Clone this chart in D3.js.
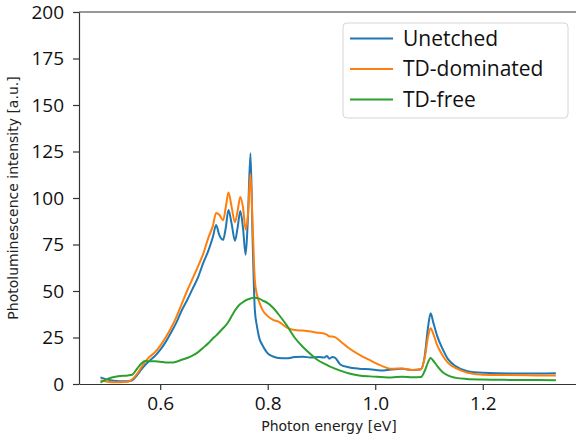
<!DOCTYPE html>
<html>
<head>
<meta charset="utf-8">
<script src="https://cdn.jsdelivr.net/npm/d3@7"></script>
<style>
    body { margin: 0; background: #fff; }
    #pl-chart { width: 576px; height: 442px; overflow: hidden; }
    .axis text { font-family: "Open Sans", sans-serif; font-size: 19px; fill: #111; }
    .axis path, .axis line { stroke: #333; stroke-width: 1.2; }
    .axis-label { font-family: "DejaVu Sans", sans-serif; font-size: 14px; fill: #222; text-anchor: middle; }
    .legend-text { font-family: "Open Sans", sans-serif; font-size: 21px; fill: #111; }
</style>
</head>
<body>
<div id="pl-chart"></div>
<script>
// --- Data ---
const energy = [0.489, 0.50, 0.51, 0.525, 0.54, 0.548, 0.557, 0.565, 0.572, 0.58, 0.59, 0.60, 0.61, 0.62, 0.63, 0.64, 0.65, 0.66, 0.67, 0.68, 0.69, 0.698, 0.704, 0.71, 0.717, 0.722, 0.727, 0.733, 0.739, 0.744, 0.749, 0.754, 0.759, 0.763, 0.768, 0.772, 0.776, 0.78, 0.785, 0.79, 0.80, 0.81, 0.82, 0.835, 0.85, 0.865, 0.88, 0.895, 0.905, 0.91, 0.915, 0.92, 0.925, 0.935, 0.95, 0.97, 0.99, 1.01, 1.03, 1.05, 1.07, 1.085, 1.092, 1.098, 1.103, 1.108, 1.115, 1.125, 1.135, 1.15, 1.17, 1.2, 1.25, 1.3, 1.336];

const unetched = [3.6, 2.5, 1.9, 1.5, 1.5, 2.0, 4.8, 7.8, 10.2, 12.5, 15, 18.3, 22.5, 27.5, 33, 39.5, 45, 51, 57, 65, 72, 79, 85.5, 80, 77.5, 84, 93.5, 86, 77, 84, 93, 84, 69.5, 88, 124, 77, 40, 31, 24, 21, 16.5, 14.8, 14, 13.8, 14.5, 14.7, 14.2, 14.5, 14.2, 15, 13.6, 14.5, 14.2, 10.5, 9, 8.2, 7.9, 7.3, 7.8, 8.2, 7.5, 7.9, 15, 30, 38, 33, 26, 19, 13.5, 9.5, 7, 6, 5.7, 5.7, 5.8];

const tdDominated = [2.1, 1.3, 1.0, 1.0, 1.2, 2.5, 5.5, 9, 12, 14.5, 17, 20.5, 25, 30, 36, 43, 50, 56.5, 63, 70, 79, 85, 92, 91, 88, 95, 103, 95, 87, 93, 100.5, 95, 83, 90, 113, 85, 56, 48, 43.5, 40, 36.5, 34.5, 33.5, 30.5, 29, 28.7, 28.2, 27.5, 27.2, 26.5, 25.5, 25.6, 25.2, 23, 19.5, 15.8, 12.8, 10, 8.2, 8.4, 7.5, 7.9, 14, 25, 30, 27, 21, 15.5, 11.5, 8.5, 6.2, 5, 4.8, 4.6, 4.5];

const tdFree = [0.8, 2.5, 3.5, 4.3, 4.6, 5, 8.2, 11, 12.4, 12.2, 12.2, 12, 11.6, 11.5, 12, 13, 14, 15.3, 17, 19.5, 22, 24.5, 26, 27.8, 30, 31.5, 33.5, 36.5, 39.5, 41.5, 43, 44, 45, 45.5, 46, 46.3, 46.4, 46.2, 45.8, 45, 43.5, 41, 37.5, 31.7, 25, 20, 16, 12.5, 11, 10.3, 9.5, 8.9, 8.3, 7.2, 5.8, 4.6, 4.1, 3.8, 3.5, 3.9, 3.6, 3.7, 7, 11.5, 14, 12.5, 9.8, 6.5, 4.6, 3.3, 2.7, 2.4, 2.2, 2.1, 2.0];

const seriesNames = ['Unetched', 'TD-dominated', 'TD-free'];
const seriesColors = ['#1f77b4', '#ff7f0e', '#2ca02c'];
const xTicks = [0.6, 0.8, 1.0, 1.2];
const yTicks = [0, 25, 50, 75, 100, 125, 150, 175, 200];

function renderSpectrum() {
    const W = 576, H = 442;
    // axes run a little past the right edge of the picture
    const margin = { top: 12, left: 79 };
    const width = 500;
    const height = 372;

    const svg = d3.select('#pl-chart').append('svg')
        .attr('width', W)
        .attr('height', H);

    const g = svg.append('g')
        .attr('transform', `translate(${margin.left},${margin.top})`);

    // --- Scales ---
    const x = d3.scaleLinear().domain([0.449, 1.379]).range([0, width]);
    const y = d3.scaleLinear().domain([0, 200]).range([height, 0]);

    // --- Lines ---
    const line = d3.line()
        .curve(d3.curveMonotoneX)
        .x(d => x(d[0]))
        .y(d => y(d[1]));

    [unetched, tdDominated, tdFree].forEach((vals, i) => {
        g.append('path')
            .datum(energy.map((e, k) => [e, vals[k]]))
            .attr('fill', 'none')
            .attr('stroke', seriesColors[i])
            .attr('stroke-width', 2)
            .attr('stroke-linejoin', 'round')
            .attr('d', line);
    });

    // --- Axes ---
    g.append('g')
        .attr('class', 'axis')
        .attr('transform', `translate(0,${height})`)
        .call(d3.axisBottom(x).tickValues(xTicks).tickSize(6).tickSizeOuter(0).tickPadding(7)
            .tickFormat(d3.format('.1f')));

    g.append('g')
        .attr('class', 'axis')
        .call(d3.axisLeft(y).tickValues(yTicks).tickSize(6).tickSizeOuter(0).tickPadding(9));

    // top spine
    g.append('line')
        .attr('x1', 0).attr('x2', width)
        .attr('y1', 0).attr('y2', 0)
        .attr('stroke', '#333').attr('stroke-width', 1.2);

    // --- Axis labels ---
    svg.append('text')
        .attr('class', 'axis-label')
        .attr('x', margin.left + width / 2)
        .attr('y', 431)
        .text('Photon energy [eV]');

    svg.append('text')
        .attr('class', 'axis-label')
        .attr('transform', 'rotate(-90)')
        .attr('x', -(margin.top + height / 2))
        .attr('y', 18)
        .text('Photoluminescence intensity [a.u.]');

    // --- Legend ---
    const legend = svg.append('g').attr('transform', 'translate(343,23)');
    legend.append('rect')
        .attr('width', 225).attr('height', 95)
        .attr('rx', 4)
        .attr('fill', 'rgba(255,255,255,0.8)')
        .attr('stroke', '#d6d6d6');

    seriesNames.forEach((name, i) => {
        const ly = 15.5 + i * 30.5;
        legend.append('line')
            .attr('x1', 7).attr('x2', 50)
            .attr('y1', ly).attr('y2', ly)
            .attr('stroke', seriesColors[i])
            .attr('stroke-width', 2);
        legend.append('text')
            .attr('class', 'legend-text')
            .attr('x', 60)
            .attr('y', ly)
            .attr('dy', '0.35em')
            .text(name);
    });
}

renderSpectrum();
</script>
</body>
</html>
